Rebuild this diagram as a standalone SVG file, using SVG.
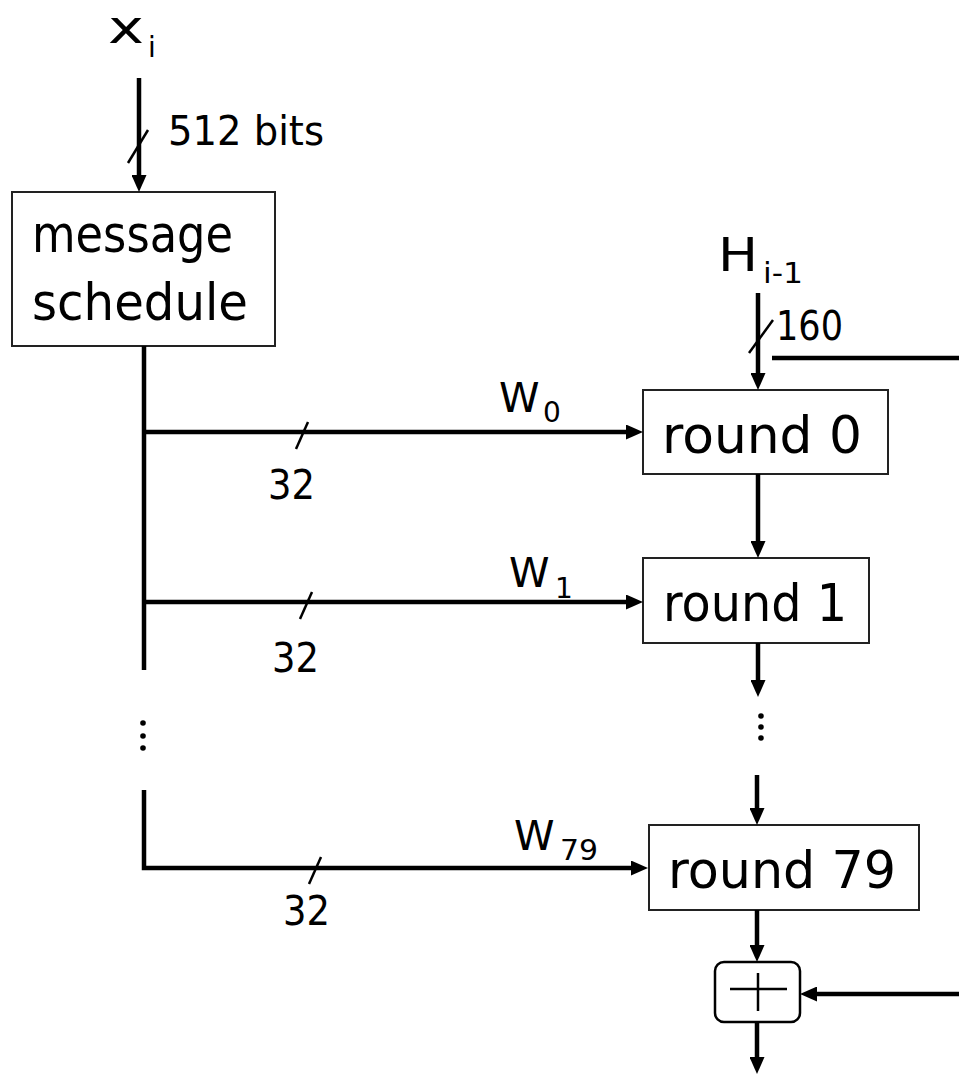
<svg xmlns="http://www.w3.org/2000/svg" width="959" height="1075" viewBox="0 0 959 1075">
<style>
text{font-family:"DejaVu Sans","Liberation Sans",sans-serif;fill:#000}
.box{fill:#fff;stroke:#222;stroke-width:2}
.wire{fill:none;stroke:#000;stroke-width:4.5}
.arr{fill:none;stroke:#000;stroke-width:4.5;marker-end:url(#ah)}
.tick{fill:none;stroke:#000;stroke-width:2.5}
.big{font-size:52px}
.mid{font-size:40px}
.lbl{font-size:46px}
.w{font-size:41px}
.sub{font-size:28px}
</style>
<defs>
<marker id="ah" viewBox="0 0 17 15" refX="0" refY="7.5" markerWidth="17" markerHeight="15" markerUnits="userSpaceOnUse" orient="auto">
<path d="M0,0 L17,7.5 L0,15 z" fill="#000"/>
</marker>
</defs>
<rect width="959" height="1075" fill="#fff"/>

<g id="labels">
<text class="lbl" x="108" y="43"><tspan textLength="36" lengthAdjust="spacingAndGlyphs">x</tspan><tspan class="sub" x="148" y="57">i</tspan></text>
<text class="mid" x="168" y="145" textLength="156" lengthAdjust="spacingAndGlyphs">512 bits</text>
<text class="lbl" x="718" y="271"><tspan textLength="40" lengthAdjust="spacingAndGlyphs">H</tspan><tspan class="sub" x="763" y="283" textLength="40" lengthAdjust="spacingAndGlyphs">i-1</tspan></text>
<text class="mid" x="776" y="340" textLength="67" lengthAdjust="spacingAndGlyphs">160</text>
<text class="w" x="499" y="412">W<tspan class="sub" x="543" y="422">0</tspan></text>
<text class="mid" x="268" y="499" textLength="47" lengthAdjust="spacingAndGlyphs">32</text>
<text class="w" x="509" y="587">W<tspan class="sub" x="555" y="598">1</tspan></text>
<text class="mid" x="272" y="672" textLength="47" lengthAdjust="spacingAndGlyphs">32</text>
<text class="w" x="514" y="850">W<tspan class="sub" x="560" y="860" textLength="38" lengthAdjust="spacingAndGlyphs">79</tspan></text>
<text class="mid" x="283" y="925" textLength="47" lengthAdjust="spacingAndGlyphs">32</text>
</g>

<g id="message-schedule">
<rect class="box" x="12" y="192" width="263" height="154"/>
<text class="big" x="32" y="252" textLength="201" lengthAdjust="spacingAndGlyphs">message</text>
<text class="big" x="32" y="320" textLength="216" lengthAdjust="spacingAndGlyphs">schedule</text>
</g>

<g id="round0">
<rect class="box" x="643" y="390" width="245" height="84"/>
<text class="big" x="662" y="453" textLength="200" lengthAdjust="spacingAndGlyphs">round 0</text>
</g>

<g id="round1">
<rect class="box" x="643" y="558" width="226" height="85"/>
<text class="big" x="663" y="621" textLength="184" lengthAdjust="spacingAndGlyphs">round 1</text>
</g>

<g id="round79">
<rect class="box" x="649" y="825" width="270" height="85"/>
<text class="big" x="668" y="888" textLength="228" lengthAdjust="spacingAndGlyphs">round 79</text>
</g>

<g id="adder">
<rect x="715" y="962" width="85" height="60" rx="9" ry="9" fill="#fff" stroke="#000" stroke-width="2.5"/>
<line x1="730" y1="989" x2="787" y2="989" stroke="#000" stroke-width="2.5"/>
<line x1="758" y1="973" x2="758" y2="1011" stroke="#000" stroke-width="2.5"/>
</g>

<g id="connectors">
<line class="arr" x1="139" y1="78" x2="139" y2="175"/>
<line class="tick" x1="128" y1="163" x2="148" y2="130"/>

<line class="arr" x1="758" y1="293" x2="758" y2="373"/>
<line class="tick" x1="749" y1="353" x2="773" y2="320"/>
<line class="wire" x1="772" y1="358" x2="959" y2="358"/>

<line class="wire" x1="144" y1="346" x2="144" y2="670"/>
<line class="arr" x1="142" y1="432" x2="626" y2="432"/>
<line class="tick" x1="296" y1="449" x2="308" y2="422"/>
<line class="arr" x1="142" y1="602" x2="626" y2="602"/>
<line class="tick" x1="300" y1="619" x2="312" y2="592"/>
<path class="arr" d="M144,790 L144,868 L631,868"/>
<line class="tick" x1="309" y1="884" x2="321" y2="857"/>

<circle cx="143" cy="723" r="2.8"/>
<circle cx="143" cy="736" r="2.8"/>
<circle cx="143" cy="748" r="2.8"/>

<line class="arr" x1="758" y1="474" x2="758" y2="541"/>
<line class="arr" x1="758" y1="643" x2="758" y2="680"/>
<circle cx="761" cy="716" r="2.8"/>
<circle cx="761" cy="727" r="2.8"/>
<circle cx="761" cy="738" r="2.8"/>
<line class="arr" x1="757" y1="775" x2="757" y2="808"/>
<line class="arr" x1="757" y1="910" x2="757" y2="945"/>
<line class="arr" x1="959" y1="994" x2="817" y2="994"/>
<line class="arr" x1="757" y1="1022" x2="757" y2="1057"/>
</g>
</svg>
